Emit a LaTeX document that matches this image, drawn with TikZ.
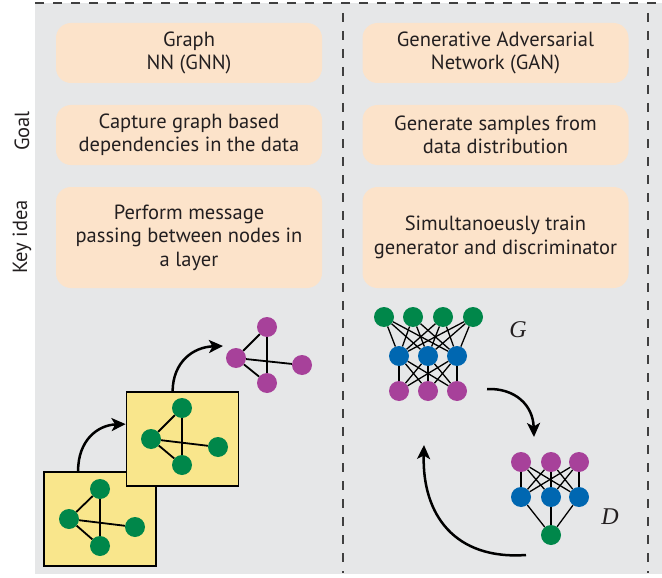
\documentclass[tikz,border=0pt]{standalone}
\usepackage{fontspec}
\setmainfont{PT Sans}
\newfontfamily\lblserif{Liberation Serif}
\usetikzlibrary{arrows.meta,calc}
\definecolor{bggray}{HTML}{E6E7E8}
\definecolor{peach}{HTML}{FCE3CA}
\definecolor{sqyellow}{HTML}{F9E68C}
\definecolor{ngreen}{HTML}{00874A}
\definecolor{nblue}{HTML}{0067B1}
\definecolor{npurple}{HTML}{A7419A}
\definecolor{dashgray}{HTML}{404040}
\definecolor{txt}{HTML}{231F20}
\tikzset{
  dashline/.style={draw=dashgray,line width=1.8pt,dash pattern=on 9pt off 9pt},
  infobox/.style={fill=peach,rounded corners=15pt,minimum width=266pt,align=center,text=txt,
    font=\fontsize{20.5}{23.5}\selectfont,inner sep=0pt,execute at begin node={\rule{0pt}{21pt}}},
  sidelabel/.style={rotate=90,text=txt,font=\fontsize{20.5}{23}\selectfont},
  sqbox/.style={draw=black,line width=1.8pt,fill=sqyellow,minimum width=112pt,minimum height=94pt,inner sep=0pt},
  dot/.style={circle,minimum size=20pt,inner sep=0pt,draw=none,fill=#1},
  gedge/.style={line width=1.8pt,black},
  nnedge/.style={line width=1.3pt,black},
  flow/.style={line width=2.5pt,black,-{Stealth[length=14pt,width=13pt,inset=3.5pt]}},
  mathlbl/.style={font=\lblserif\itshape\fontsize{24}{24}\selectfont,text=txt}
}
\begin{document}
\begin{tikzpicture}[x=1pt,y=-1pt]
\useasboundingbox (0,0) rectangle (662,578);
\fill[bggray] (35,3) rectangle (662,574);
% dashed frame lines
\coordinate (t0) at (35,3); \coordinate (t1) at (662,3);
\coordinate (m0) at (343,13); \coordinate (m1) at (343,573);
\coordinate (r0) at (648,13); \coordinate (r1) at (648,573);
\draw[dashline] (t0) -- (t1);
\draw[dashline] (m0) -- (m1);
\draw[dashline] (r0) -- (r1);
% side labels
\node[sidelabel] (goal) at (22,131) {Goal};
\node[sidelabel] (keyidea) at (22,237) {Key idea};
% boxes
\node[infobox,minimum height=60pt] (l1) at (189,53) {Graph\\NN (GNN)};
\node[infobox,minimum height=60pt] (l2) at (189,135) {Capture graph based\\dependencies in the data};
\node[infobox,minimum height=101pt] (l3) at (189,237.5) {Perform message\\passing between nodes in\\a layer};
\node[infobox,minimum height=60pt] (r1b) at (495.5,53) {Generative Adversarial\\Network (GAN)};
\node[infobox,minimum height=60pt] (r2b) at (495.5,135) {Generate samples from\\data distribution};
\node[infobox,minimum height=101pt] (r3b) at (495.5,237.5) {Simultanoeusly train\\generator and discriminator};
% GNN squares
\node[sqbox] (sq1) at (100,519) {};
\node[dot=ngreen] (a1t) at (100,489) {};
\node[dot=ngreen] (a1l) at (69,519) {};
\node[dot=ngreen] (a1r) at (135,527) {};
\node[dot=ngreen] (a1b) at (100,546) {};
\draw[gedge] (a1l) -- (a1t); \draw[gedge] (a1l) -- (a1b);
\draw[gedge] (a1t) -- (a1b); \draw[gedge] (a1l) -- (a1r);
\node[sqbox] (sq2) at (182.5,439) {};
\node[dot=ngreen] (a2t) at (182,408) {};
\node[dot=ngreen] (a2l) at (151,439) {};
\node[dot=ngreen] (a2r) at (218,447) {};
\node[dot=ngreen] (a2b) at (182,465) {};
\draw[gedge] (a2l) -- (a2t); \draw[gedge] (a2l) -- (a2b);
\draw[gedge] (a2t) -- (a2b); \draw[gedge] (a2l) -- (a2r);
\node[dot=npurple] (a3t) at (267,327) {};
\node[dot=npurple] (a3l) at (236,358) {};
\node[dot=npurple] (a3r) at (302,365) {};
\node[dot=npurple] (a3b) at (267,383) {};
\draw[gedge] (a3l) -- (a3t); \draw[gedge] (a3l) -- (a3b);
\draw[gedge] (a3t) -- (a3b); \draw[gedge] (a3l) -- (a3r);
% GNN arrows
\coordinate (s1) at ($(sq1.north west)+(35,0)$);
\coordinate (e1) at ($(sq2.north west)+(0,33)$);
\draw[flow] (s1) .. controls (78,440) and (98,425) .. (e1);
\coordinate (s2) at ($(sq2.north west)+(47,0)$);
\coordinate (e2) at (223,346);
\draw[flow] (s2) .. controls (173,362) and (193,347) .. (e2);
% Generator
\foreach \x [count=\i] in {384,413,443,473} \node[dot=ngreen] (gg\i) at (\x,317) {};
\foreach \x [count=\i] in {399,428,457} \node[dot=nblue] (gb\i) at (\x,356) {};
\foreach \x [count=\i] in {399,428,457} \node[dot=npurple] (gp\i) at (\x,391) {};
\foreach \i in {1,...,4} \foreach \j in {1,2,3} \draw[nnedge] (gg\i) -- (gb\j);
\foreach \i in {1,2,3} \foreach \j in {1,2,3} \draw[nnedge] (gb\i) -- (gp\j);
\node[mathlbl] (glbl) at (518,330) {G};
% Discriminator
\foreach \x [count=\i] in {521,551,579} \node[dot=npurple] (dp\i) at (\x,462) {};
\foreach \x [count=\i] in {521,551,579} \node[dot=nblue] (db\i) at (\x,497) {};
\node[dot=ngreen] (dg) at (551,535) {};
\foreach \i in {1,2,3} \foreach \j in {1,2,3} \draw[nnedge] (dp\i) -- (db\j);
\foreach \i in {1,2,3} \draw[nnedge] (db\i) -- (dg);
\node[mathlbl] (dlbl) at (610,517) {D};
% GAN arrows
\coordinate (gs) at (487,389);
\coordinate (ge) at (534,437);
\draw[flow] (gs) .. controls (515,388) and (533,405) .. (ge);
\coordinate (ds) at (526,555);
\coordinate (de) at (424,445);
\draw[flow] (ds) .. controls (455,560) and (422,515) .. (de);
\end{tikzpicture}
\end{document}
